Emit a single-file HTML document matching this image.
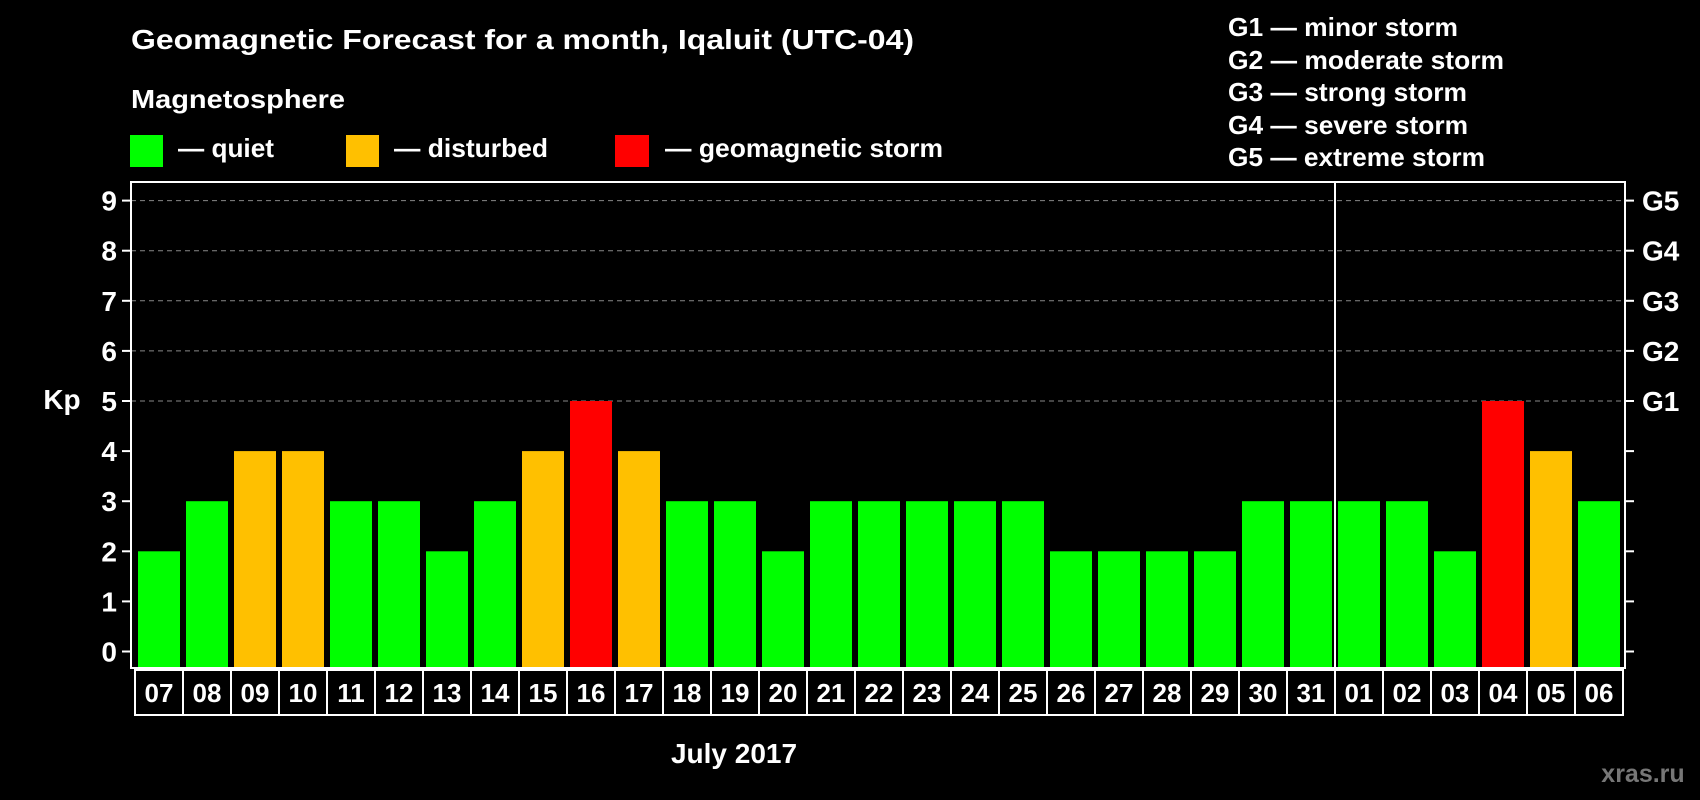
<!DOCTYPE html>
<html><head><meta charset="utf-8"><style>
html,body{margin:0;padding:0;background:#000;width:1700px;height:800px;overflow:hidden}
svg text{font-family:"Liberation Sans",Arial,sans-serif;font-weight:bold;fill:#fff}
</style></head><body>
<svg id="chart" width="1700" height="800" xmlns="http://www.w3.org/2000/svg">
<rect width="1700" height="800" fill="#000"/>
<text x="131" y="49" font-size="28" textLength="783" lengthAdjust="spacingAndGlyphs">Geomagnetic Forecast for a month, Iqaluit (UTC-04)</text>
<text x="131" y="108" font-size="26" textLength="214" lengthAdjust="spacingAndGlyphs">Magnetosphere</text>
<g><rect x="130" y="135" width="33" height="32" fill="#00ff00"/><text x="178" y="157" font-size="26" textLength="96" lengthAdjust="spacingAndGlyphs">— quiet</text></g>
<g><rect x="346" y="135" width="33" height="32" fill="#ffc000"/><text x="394" y="157" font-size="26" textLength="154" lengthAdjust="spacingAndGlyphs">— disturbed</text></g>
<g><rect x="615" y="135" width="34" height="32" fill="#ff0000"/><text x="665" y="157" font-size="26" textLength="278" lengthAdjust="spacingAndGlyphs">— geomagnetic storm</text></g>
<g font-size="26">
<text x="1228" y="36" textLength="230" lengthAdjust="spacingAndGlyphs">G1 — minor storm</text>
<text x="1228" y="69" textLength="276" lengthAdjust="spacingAndGlyphs">G2 — moderate storm</text>
<text x="1228" y="101" textLength="239" lengthAdjust="spacingAndGlyphs">G3 — strong storm</text>
<text x="1228" y="134" textLength="240" lengthAdjust="spacingAndGlyphs">G4 — severe storm</text>
<text x="1228" y="166" textLength="257" lengthAdjust="spacingAndGlyphs">G5 — extreme storm</text>
</g>
<text x="62" y="409" font-size="28" text-anchor="middle">Kp</text>
<text x="734" y="763" font-size="28" text-anchor="middle">July 2017</text>
<text x="1643" y="782" font-size="25" text-anchor="middle" style="fill:#777">xras.ru</text>
<g id="plot"></g>
</svg>
<script>
const days=["07","08","09","10","11","12","13","14","15","16","17","18","19","20","21","22","23","24","25","26","27","28","29","30","31","01","02","03","04","05","06"];
const kpValues=[2,3,4,4,3,3,2,3,4,5,4,3,3,2,3,3,3,3,3,2,2,2,2,3,3,3,3,2,5,4,3];
const yTicks=[0,1,2,3,4,5,6,7,8,9];
const gLabels=["G1","G2","G3","G4","G5"];
const gLevels=[5,6,7,8,9];
const monthBreakIndex=25;

const NS="http://www.w3.org/2000/svg";
const plot=document.getElementById('plot');
const L=131,R=1625,T=182,B=668,X0=138,pitch=48,bw=42;
const y=v=>651.5-v*(651.5-200.6)/9;
const x=i=>X0+i*pitch;
function mk(tag,attrs,parent){const e=document.createElementNS(NS,tag);for(const k in attrs)e.setAttribute(k,attrs[k]);(parent||plot).appendChild(e);return e;}
function color(v){return v>=5?"#ff0000":v>=4?"#ffc000":"#00ff00";}
yTicks.forEach(t=>{
  if(t>=5){const g=mk('line',{x1:L,x2:R,y1:y(t),y2:y(t),stroke:"#888","stroke-width":1,"stroke-dasharray":"5,4"});
  
  }
  const a=mk('line',{x1:L-9,x2:L,y1:y(t),y2:y(t),stroke:"#fff","stroke-width":2});
  
  
  const b=mk('line',{x1:R,x2:R+9,y1:y(t),y2:y(t),stroke:"#fff","stroke-width":2});
  
  
  const tx=mk('text',{x:L-14,y:y(t)+10,"font-size":28,"text-anchor":"end"});
  tx.textContent=t;
  
  
});
gLabels.forEach((g,i)=>{
  const tx=mk('text',{x:1642,y:y(gLevels[i])+10,"font-size":28});
  tx.textContent=g;
  
  
});
kpValues.forEach((v,i)=>{
  const r=mk('rect',{x:x(i),y:y(v),width:bw,height:B-1-y(v),fill:color(v)});
  
  
});
const fr=mk('rect',{x:L,y:T,width:R-L,height:B-T,fill:"none",stroke:"#fff","stroke-width":2});


const dv=mk('line',{x1:x(monthBreakIndex)-3,x2:x(monthBreakIndex)-3,y1:T,y2:715,stroke:"#fff","stroke-width":2});


days.forEach((d,i)=>{
  const bx=mk('rect',{x:x(i)-3,y:670,width:pitch,height:45,fill:"none",stroke:"#fff","stroke-width":2});
  
  
  const tx=mk('text',{x:x(i)+bw/2,y:702,"font-size":26,"text-anchor":"middle"});
  tx.textContent=d;
  
  
});
</script>
</body></html>
